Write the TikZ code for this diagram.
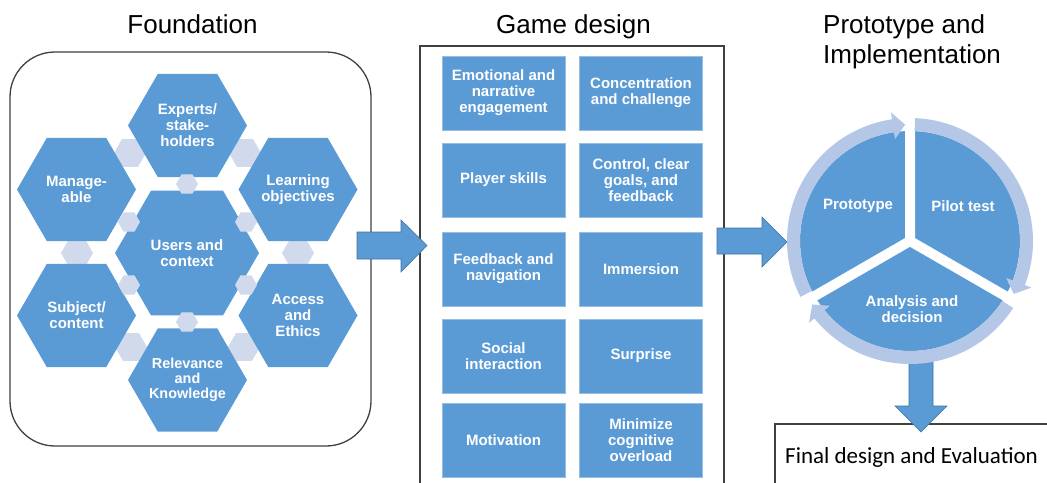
\documentclass[tikz,border=0pt]{standalone}
\usepackage{fontspec}
\setmainfont{Liberation Sans}
\newfontfamily\calib{Carlito}
\usetikzlibrary{shapes.geometric}
\definecolor{mblue}{RGB}{91,155,213}
\definecolor{aedge}{RGB}{65,113,156}
\definecolor{hexlight}{RGB}{208,218,236}
\definecolor{ringlight}{RGB}{180,199,231}
\definecolor{frame}{RGB}{64,64,64}
\definecolor{gedge}{RGB}{150,190,228}
\begin{document}
\begin{tikzpicture}[x=1pt,y=1pt,
  hexshape/.style={regular polygon, regular polygon sides=6, inner sep=0pt, outer sep=0pt, fill=mblue},
  hexcon/.style={regular polygon, regular polygon sides=6, inner sep=0pt, outer sep=0pt, fill=hexlight},
  wtext/.style={text=white, font=\fontsize{15}{16}\selectfont\bfseries, align=center, inner sep=0pt},
  gbox/.style={fill=mblue, draw=gedge, line width=0.6pt, minimum width=123pt, minimum height=74pt, inner sep=2pt, text=white, font=\fontsize{15}{16}\selectfont\bfseries, align=center},
  title/.style={font=\fontsize{26}{30}\selectfont, anchor=base, inner sep=0pt},
  blockarrow/.style={fill=mblue, draw=aedge, line width=0.6pt, line join=miter},
  ringarc/.style={fill=ringlight},
  framebox/.style={draw=frame, line width=1.3pt}
]
\useasboundingbox (0,0) rectangle (1047,-482);
\clip (0,0) rectangle (1047,-482);

% titles
\node[title] (t1) at (192.5,-33) {Foundation};
\node[title] (t2) at (573.5,-33) {Game design};
\node[title, anchor=base west] (t3) at (823,-33) {Prototype and};
\node[title, anchor=base west] (t4) at (823,-63) {Implementation};

% foundation frame
\node[framebox, rounded corners=45pt, minimum width=361pt, minimum height=394pt, inner sep=0pt] (found) at (190.5,-249) {};

% outer light connectors (behind)
\node[hexcon, minimum size=32pt] (c1) at (130,-153) {};
\node[hexcon, minimum size=32pt] (c2) at (245,-153) {};
\node[hexcon, minimum size=32pt] (c3) at (77,-253) {};
\node[hexcon, minimum size=32pt] (c4) at (298,-253) {};
\node[hexcon, minimum size=32pt] (c5) at (131,-347) {};
\node[hexcon, minimum size=32pt] (c6) at (244,-347) {};

% hexagons
\node[hexshape, minimum size=119pt] (experts) at (187.5,-125.5) {};
\node[hexshape, minimum size=119pt] (manage) at (76.5,-189.5) {};
\node[hexshape, minimum size=119pt] (learn) at (298,-189.5) {};
\node[hexshape, minimum size=144pt] (users) at (187,-253) {};
\node[hexshape, minimum size=119pt] (subject) at (76.5,-315.5) {};
\node[hexshape, minimum size=119pt] (access) at (298,-315.5) {};
\node[hexshape, minimum size=119pt] (relev) at (187.5,-380) {};

% inner light connectors (on top)
\node[hexcon, minimum size=22pt] (i1) at (187,-184) {};
\node[hexcon, minimum size=22pt] (i2) at (129,-222) {};
\node[hexcon, minimum size=22pt] (i3) at (246,-222) {};
\node[hexcon, minimum size=22pt] (i4) at (129,-285) {};
\node[hexcon, minimum size=22pt] (i5) at (246,-285) {};
\node[hexcon, minimum size=22pt] (i6) at (187,-322) {};

\node[wtext] at (experts) {Experts/\\stake-\\holders};
\node[wtext] at (manage) {Manage-\\able};
\node[wtext] at (learn) {Learning\\objectives};
\node[wtext] at (users) {Users and\\context};
\node[wtext] at (subject) {Subject/\\content};
\node[wtext] at (access) {Access\\and\\Ethics};
\node[wtext, font=\fontsize{14.4}{15}\selectfont\bfseries] at (relev) {Relevance\\and\\Knowledge};

% game design frame
\draw[framebox] (420,-500) -- (420,-46) -- (724,-46) -- (724,-500);
\node[gbox] (g1) at (503.5,-93) {Emotional and\\narrative\\engagement};
\node[gbox] (g2) at (641,-93) {Concentration\\and challenge};
\node[gbox] (g3) at (503.5,-180) {Player skills};
\node[gbox] (g4) at (641,-180) {Control, clear\\goals, and\\feedback};
\node[gbox] (g5) at (503.5,-269) {Feedback and\\navigation};
\node[gbox] (g6) at (641,-269) {Immersion};
\node[gbox] (g7) at (503.5,-356) {Social\\interaction};
\node[gbox] (g8) at (641,-356) {Surprise};
\node[gbox] (g9) at (503.5,-440) {Motivation};
\node[gbox] (g10) at (641,-440) {Minimize\\cognitive\\overload};

% final box frame
\draw[framebox] (775,-500) -- (775,-424) -- (1060,-424);

% block arrows
\draw[blockarrow] (357,-232) -- (401,-232) -- (401,-220) -- (427,-245.5) -- (401,-272) -- (401,-259) -- (357,-259) -- cycle;
\draw[blockarrow] (717,-228) -- (762,-228) -- (762,-217) -- (787,-242) -- (762,-267) -- (762,-254) -- (717,-254) -- cycle;
\draw[blockarrow] (909,-355) -- (933,-355) -- (933,-406) -- (947,-406) -- (921,-432) -- (895,-406) -- (909,-406) -- cycle;

% cycle
\node[circle, fill=mblue, minimum size=220pt, inner sep=0pt, outer sep=0pt] (pie) at (910,-241) {};
\begin{scope}[shift={(910,-241)}]
  \draw[white, line width=10pt] (0,0) -- (90:112) (0,0) -- (-30:112) (0,0) -- (210:112);
  % Prototype arc
  \fill[ringarc] (207:123) arc[start angle=207, end angle=98.4, radius=123] -- (98.4:130) -- (92.4:116.5) -- (98.4:103) -- (98.4:110) arc[start angle=98.4, end angle=207, radius=110] -- cycle;
  % Pilot arc
  \fill[ringarc] (87.6:123) arc[start angle=87.6, end angle=-21, radius=123] -- (-21:130) -- (-27:116.5) -- (-21:103) -- (-21:110) arc[start angle=-21, end angle=87.6, radius=110] -- cycle;
  % Analysis arc
  \fill[ringarc] (-33:123) arc[start angle=-33, end angle=-141, radius=123] -- (-141:130) -- (-147:116.5) -- (-141:103) -- (-141:110) arc[start angle=-141, end angle=-33, radius=110] -- cycle;
\end{scope}
\node[wtext] (p1) at (858,-206) {Prototype};
\node[wtext] (p2) at (963,-206) {Pilot test};
\node[wtext] (p3) at (912,-309) {Analysis and\\decision};

% final text
\node[anchor=base west, inner sep=0pt, font=\calib\fontsize{23}{27}\selectfont] (final) at (785,-463) {Final design and Evaluation};
\end{tikzpicture}
\end{document}
